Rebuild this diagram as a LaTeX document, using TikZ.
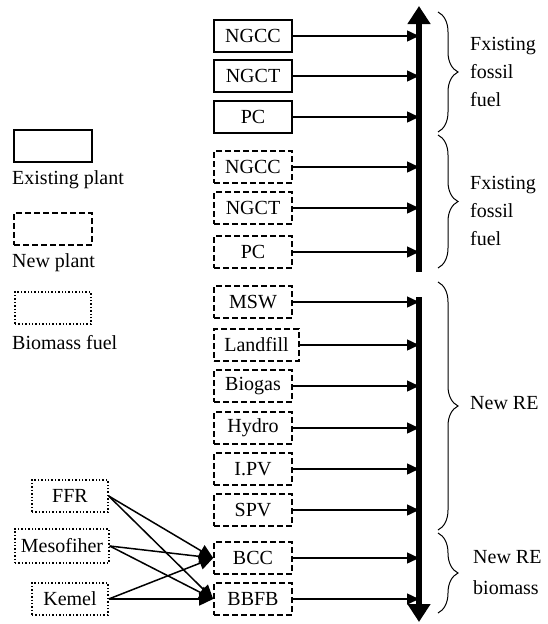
\documentclass[tikz,border=0pt]{standalone}
\usepackage{fontspec}
\setmainfont{Liberation Serif}
\usetikzlibrary{positioning, arrows.meta, decorations.pathreplacing, calc}

\begin{document}
\begin{tikzpicture}[x=1pt, y=-1pt, >={Triangle[length=12pt,width=11pt]},
  every node/.style={font=\fontsize{20}{28}\selectfont, inner sep=0pt},
  plant/.style={draw, line width=1.6pt, minimum width=78pt, minimum height=32pt},
  newplant/.style={plant, dash pattern=on 6pt off 3pt},
  fuel/.style={draw, line width=1.4pt, dotted, minimum width=76pt, minimum height=32pt},
  feed/.style={->, line width=1.5pt},
  bus/.style={line width=5.5pt, -{Triangle[length=18pt,width=22pt]}},
  grp/.style={decorate, decoration={brace, amplitude=20pt}, line width=1pt},
  lbl/.style={align=left, anchor=west}]
  \useasboundingbox (0,0) rectangle (548,624);
  % legend
  \node[plant] (keyold) at (53,146) {};
  \node[lbl] (keyoldlbl) at (12,180) {Existing plant};
  \node[newplant] (keynew) at (53,229) {};
  \node[lbl] (keynewlbl) at (12,263) {New plant};
  \node[fuel] (keybio) at (53,308) {};
  \node[lbl] (keybiolbl) at (12,343) {Biomass fuel};
  % plants
  \node[plant] (ngccA) at (253,36) {NGCC};
  \node[plant] (ngctA) at (253,76) {NGCT};
  \node[plant] (pcA) at (253,117) {PC};
  \node[newplant] (ngccB) at (253,167) {NGCC};
  \node[newplant] (ngctB) at (253,208) {NGCT};
  \node[newplant] (pcB) at (253,252) {PC};
  \node[newplant] (msw) at (253,302) {MSW};
  \node[newplant, minimum width=85pt] (landfill) at (256.5,345) {Landfill};
  \node[newplant] (biogas) at (253,386) {Biogas};
  \node[newplant] (hydro) at (253,428) {Hydro};
  \node[newplant] (lpv) at (253,469) {I.PV};
  \node[newplant] (spv) at (253,510) {SPV};
  \node[newplant] (bcc) at (253,558) {BCC};
  \node[newplant] (bbfb) at (253,599) {BBFB};
  % biomass fuels
  \node[fuel] (ffr) at (70,496) {FFR};
  \node[fuel, minimum width=94pt, minimum height=34pt] (meso) at (62,546) {Mesofiher};
  \node[fuel] (kemel) at (70,599) {Kemel};
  % buses
  \coordinate (busA) at (419,272);
  \coordinate (busAtop) at (419,6);
  \coordinate (busB) at (419,297);
  \coordinate (busBend) at (419,622);
  \draw[bus] (busA) -- (busAtop);
  \draw[bus] (busB) -- (busBend);
  \foreach \n in {ngccA,ngctA,pcA,ngccB,ngctB,pcB}
    \draw[feed] (\n) -- (\n -| busA);
  \foreach \n in {msw,landfill,biogas,hydro,lpv,spv,bcc,bbfb}
    \draw[feed] (\n) -- (\n -| busB);
  \foreach \f in {ffr,meso,kemel}
    \foreach \t in {bcc,bbfb}
      \draw[feed, >={Triangle[length=14pt,width=13pt]}] (\f.east) -- (\t.west);
  % groups
  \draw[grp] (438,12) -- (438,132);
  \draw[grp] (438,135) -- (438,268);
  \draw[grp] (438,282) -- (438,530);
  \draw[grp] (438,533) -- (438,613);
  \node[lbl] (grpA) at (470,72) {Fxisting\\fossil\\fuel};
  \node[lbl] (grpB) at (470,211) {Fxisting\\fossil\\fuel};
  \node[lbl] (grpC) at (470,403) {New RE};
  \node[lbl] (grpD) at (473,573) {New RE\\[3pt]biomass};
\end{tikzpicture}
\end{document}
